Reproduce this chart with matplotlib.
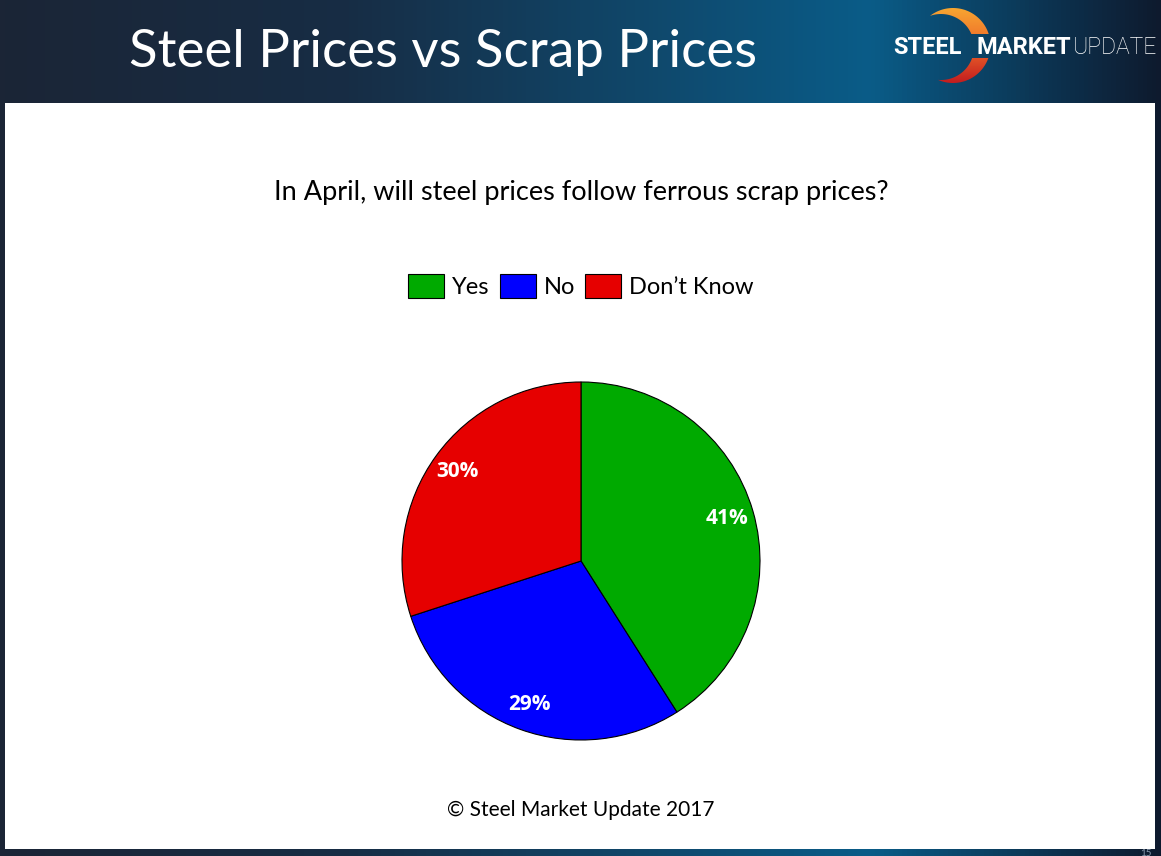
import numpy as np
import matplotlib.pyplot as plt
from matplotlib.patches import Rectangle, Polygon
from matplotlib.colors import LinearSegmentedColormap

# survey data
labels = ["Yes", "No", "Don\u2019t Know"]
shares = [41, 29, 30]
colors = ["#00aa00", "#0000ff", "#e60000"]

title = "Steel Prices vs Scrap Prices"
question = "In April, will steel prices follow ferrous scrap prices?"
footer = "\u00a9 Steel Market Update 2017"

W, H = 1161, 856
plt.rcParams['font.family'] = ['Lato', 'DejaVu Sans']

fig = plt.figure(figsize=(W / 100, H / 100), dpi=100)

# background: dark slide with blue gradient
bg = fig.add_axes([0, 0, 1, 1])
bg.set_xlim(0, W)
bg.set_ylim(H, 0)
bg.axis('off')
cmap = LinearSegmentedColormap.from_list(
    'slide', [(0, '#1b2536'), (0.3, '#172d45'), (0.75, '#0a5c88'), (1, '#0e1a2e')])
grad = np.linspace(0, 1, 256).reshape(1, -1)
bg.imshow(grad, cmap=cmap, extent=[0, W, H, 0], aspect='auto', zorder=0)
bg.add_patch(Rectangle((5, 103), 1150, 746, facecolor='white', edgecolor='none', zorder=1))

# header title
bg.text(443, 52, title, color='white', fontsize=38, ha='center', va='center', zorder=2)

# logo crescent: outer circle minus a circle shifted left
ox, oy, orad = 953, 45.5, 37.5
ix, iy, irad = 941, 47, 33
t = np.linspace(-np.pi, np.pi, 721)
outer = np.c_[ox + orad * np.cos(t), oy + orad * np.sin(t)]
keep_o = np.hypot(outer[:, 0] - ix, outer[:, 1] - iy) > irad
inner = np.c_[ix + irad * np.cos(t), iy + irad * np.sin(t)]
keep_i = np.hypot(inner[:, 0] - ox, inner[:, 1] - oy) < orad
po = outer[keep_o]
po = po[np.argsort(np.arctan2(po[:, 1] - oy, po[:, 0] - ox))]
pi_ = inner[keep_i]
pi_ = pi_[np.argsort(np.arctan2(pi_[:, 1] - iy, pi_[:, 0] - ix))][::-1]
crescent = Polygon(np.vstack([po, pi_]), closed=True, facecolor='none', edgecolor='none')
bg.add_patch(crescent)
logo_cmap = LinearSegmentedColormap.from_list('logo', ['#f7a531', '#ee6a2a', '#c31d1f'])
top, bot = oy - orad, oy + orad
gap0, gap1 = 34, 58   # the crescent breaks where the wordmark crosses it
col = np.linspace(0, 1, 100).reshape(-1, 1)
for y0, y1 in [(top, gap0), (gap1, bot)]:
    part = col[int((y0 - top) / (bot - top) * 99):int((y1 - top) / (bot - top) * 99) + 1]
    im = bg.imshow(part, cmap=logo_cmap, vmin=0, vmax=1,
                   extent=[ox - orad, ox + orad, y1, y0], aspect='auto', zorder=2)
    im.set_clip_path(crescent)
bg.set_xlim(0, W)
bg.set_ylim(H, 0)

logo_font = ['Roboto', 'DejaVu Sans']
bg.text(893, 47, "STEEL", color='white', fontsize=17, fontweight='bold', ha='left', va='center',
        family=logo_font, zorder=3)
bg.text(976, 47, "MARKET", color='white', fontsize=17, fontweight='bold', ha='left', va='center',
        family=logo_font, zorder=3)
bg.text(1073, 47, "UPDATE", color='white', fontsize=16.5, fontweight='light', ha='left', va='center',
        family=logo_font, zorder=3)
bg.text(1146, 853, "15", color='#8a9bb0', fontsize=7, ha='center', va='center', zorder=3)

# question and footer
bg.text(581, 192, question, fontsize=19.5, ha='center', va='center', zorder=2)
bg.text(581, 810, footer, fontsize=15, ha='center', va='center', zorder=2)

# pie
rad = 179
ax = fig.add_axes([(581 - rad) / W, (H - 561 - rad) / H, 2 * rad / W, 2 * rad / H])
wedges, texts, autotexts = ax.pie(
    shares, colors=colors, startangle=90, counterclock=False,
    autopct='%1.0f%%', pctdistance=0.85,
    wedgeprops=dict(edgecolor='black', linewidth=0.8),
    textprops=dict(color='white', fontsize=15, fontweight='bold',
                   family=['Open Sans', 'DejaVu Sans']))
ax.set_xlim(-1, 1)
ax.set_ylim(-1, 1)
ax.set_aspect('equal')

leg = fig.legend(wedges, labels, loc='center', bbox_to_anchor=(581 / W, 1 - 286 / H),
                 ncol=3, frameon=False, fontsize=17, handlelength=1.53, handleheight=1.19,
                 handletextpad=0.34, columnspacing=0.42)

fig.savefig('out.png', dpi=100)
